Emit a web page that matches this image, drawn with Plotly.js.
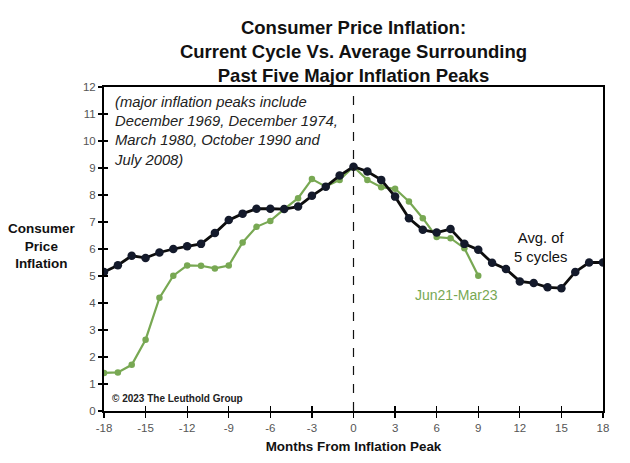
<!DOCTYPE html>
<html>
<head>
<meta charset="utf-8">
<script src="https://cdn.plot.ly/plotly-3.0.1.min.js"></script>
<style>html,body{margin:0;padding:0;background:#fff;}#chart{width:630px;height:463px;}</style>
</head>
<body>
<div id="chart"></div>
<script>
// Months from inflation peak
const months = [-18,-17,-16,-15,-14,-13,-12,-11,-10,-9,-8,-7,-6,-5,-4,-3,-2,-1,0,1,2,3,4,5,6,7,8,9,10,11,12,13,14,15,16,17,18];
// Average of 5 cycles
const avgCycles = [5.15,5.40,5.75,5.67,5.87,6.00,6.10,6.19,6.59,7.07,7.31,7.49,7.49,7.48,7.57,7.97,8.31,8.72,9.05,8.87,8.56,7.94,7.14,6.71,6.61,6.74,6.19,5.97,5.49,5.26,4.80,4.74,4.58,4.55,5.15,5.50,5.50];
// Current cycle Jun21-Mar23 (months -18 .. 9)
const currentMonths = [-18,-17,-16,-15,-14,-13,-12,-11,-10,-9,-8,-7,-6,-5,-4,-3,-2,-1,0,1,2,3,4,5,6,7,8,9];
const currentCycle = [1.41,1.43,1.71,2.64,4.19,5.01,5.39,5.38,5.28,5.39,6.24,6.82,7.04,7.48,7.88,8.59,8.31,8.56,9.05,8.56,8.29,8.23,7.76,7.14,6.44,6.40,6.03,5.01];
const xTicks = [-18,-15,-12,-9,-6,-3,0,3,6,9,12,15,18];
const yTicks = [0,1,2,3,4,5,6,7,8,9,10,11,12];

const green = '#78a853';
const traces = [
  {x: currentMonths, y: currentCycle, type:'scatter', mode:'lines+markers',
   line:{color:green, width:2.2}, marker:{color:green, size:6.5}, hoverinfo:'skip'},
  {x: months, y: avgCycles, type:'scatter', mode:'lines+markers',
   line:{color:'#0d0d0d', width:2.8}, marker:{color:'#141a2b', size:8.5}, hoverinfo:'skip'}
];

const font = 'Arial, "Liberation Sans", sans-serif';
const layout = {
  width:630, height:463,
  margin:{l:104, r:27, t:87, b:51.5},
  paper_bgcolor:'#fff', plot_bgcolor:'#fff',
  showlegend:false,
  font:{family:font, color:'#555'},
  title:{text:'Consumer Price Inflation:<br>Current Cycle Vs. Average Surrounding<br>Past Five Major Inflation Peaks',
    font:{family:font, size:18.5, color:'#111', weight:'bold'},
    x:0.5, xref:'paper', xanchor:'center', y:0.927, yref:'container', yanchor:'top'},
  xaxis:{range:[-18,18], tickvals:xTicks, ticktext:xTicks.map(String), ticks:'outside', ticklen:5,
    tickcolor:'#000', tickwidth:1.3, showline:true, linecolor:'#000', linewidth:2, mirror:true,
    showgrid:false, zeroline:false, tickfont:{size:11.5, color:'#555'},
    title:{text:'<b>Months From Inflation Peak</b>', font:{size:13.4, color:'#111'}, standoff:9}},
  xaxis2:{range:[-18,18], overlaying:'x', anchor:'y', side:'bottom', tickvals:xTicks,
    ticks:'inside', ticklen:5, tickcolor:'#000', tickwidth:1.3, showticklabels:false,
    showline:false, showgrid:false, zeroline:false},
  yaxis:{range:[0,12], tickvals:yTicks, ticks:'outside', ticklen:4, tickcolor:'#000', tickwidth:1.3,
    showline:true, linecolor:'#000', linewidth:2, mirror:true, showgrid:false, zeroline:false,
    tickfont:{size:11.5, color:'#555'}},
  yaxis2:{range:[0,12], overlaying:'y', anchor:'x', side:'left', tickvals:yTicks,
    ticks:'inside', ticklen:4, tickcolor:'#000', tickwidth:1.3, showticklabels:false,
    showline:false, showgrid:false, zeroline:false},
  shapes:[{type:'line', xref:'x', yref:'paper', x0:0, x1:0, y0:0, y1:1,
    line:{color:'#111', width:1.2, dash:'dash'}}],
  annotations:[
    {xref:'paper', yref:'paper', x:-0.125, y:0.51, xanchor:'center', yanchor:'middle', showarrow:false,
     text:'<b>Consumer<br>Price<br>Inflation</b>', font:{size:13.5, color:'#111'}, align:'center'},
    {xref:'paper', yref:'paper', x:0.016, y:0.984, xanchor:'left', yanchor:'top', showarrow:false, align:'left',
     text:'<i>(major inflation peaks include<br>December 1969, December 1974,<br>March 1980, October 1990 and<br>July 2008)</i>',
     font:{size:14.8, color:'#222'}},
    {xref:'paper', yref:'paper', x:0.012, y:0.04, xanchor:'left', yanchor:'middle', showarrow:false,
     text:'<b>© 2023 The Leuthold Group</b>', font:{size:10, color:'#222'}},
    {xref:'x', yref:'y', x:13.5, y:6.04, xanchor:'center', yanchor:'middle', showarrow:false, align:'center',
     text:'Avg. of<br>5 cycles', font:{size:14.8, color:'#111'}},
    {xref:'x', yref:'y', x:7.4, y:4.3, xanchor:'center', yanchor:'middle', showarrow:false,
     text:'Jun21-Mar23', font:{size:14, color:green}}
  ]
};
const tr2 = {x:[-18], y:[0], xaxis:'x2', yaxis:'y2', type:'scatter', mode:'markers', marker:{opacity:0}, hoverinfo:'skip'};
Plotly.newPlot('chart', [tr2].concat(traces), layout, {displayModeBar:false, staticPlot:true});
</script>
</body>
</html>
